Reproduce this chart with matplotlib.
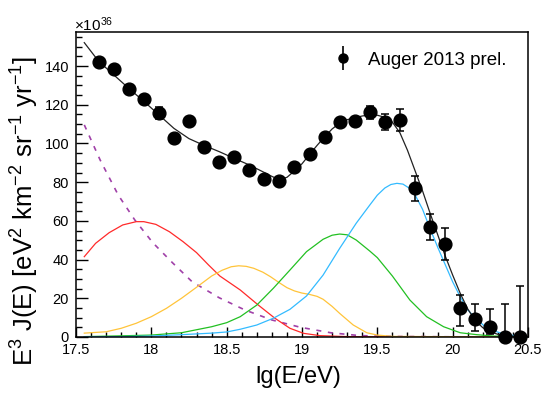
import matplotlib
matplotlib.use('Agg')
import matplotlib.pyplot as plt
from matplotlib.ticker import MultipleLocator, FuncFormatter
from matplotlib.lines import Line2D
from matplotlib.legend_handler import HandlerTuple

plt.rcParams['font.family'] = ['Liberation Sans', 'DejaVu Sans']
plt.rcParams['mathtext.fontset'] = 'custom'
plt.rcParams['mathtext.rm'] = 'Liberation Sans'
plt.rcParams['mathtext.it'] = 'Liberation Sans:italic'

# Auger 2013 prel. data points (units of 1e36)
lgE = [17.65, 17.75, 17.85, 17.95, 18.05, 18.15, 18.25, 18.35, 18.45, 18.55,
       18.65, 18.75, 18.85, 18.95, 19.05, 19.15, 19.25, 19.35, 19.45, 19.55,
       19.65, 19.75, 19.85, 19.95, 20.05, 20.15, 20.25, 20.35, 20.45]
flux = [142.3, 138.5, 128.2, 123.0, 115.6, 103.0, 111.8, 98.3, 90.6, 93.2,
        86.3, 81.7, 80.6, 88.0, 94.6, 103.5, 111.3, 111.6, 116.1, 111.0,
        112.1, 76.8, 57.0, 47.9, 15.1, 9.5, 5.0, 0.0, 0.0]
err_lo = [1.0, 1.2, 1.5, 2.2, 3.2, 1.5, 2.1, 1.6, 1.5, 1.5,
          1.5, 1.5, 1.5, 1.5, 1.6, 1.7, 1.8, 2.3, 3.4, 4.1,
          5.7, 6.3, 6.7, 8.3, 9.6, 6.6, 3.7, 0.0, 0.0]
err_hi = [1.0, 1.2, 1.5, 2.2, 3.2, 1.5, 2.1, 1.6, 1.5, 1.5,
          1.5, 1.5, 1.5, 1.5, 1.6, 1.7, 1.8, 2.3, 3.4, 4.1,
          5.7, 6.3, 6.7, 8.3, 6.6, 7.7, 9.6, 16.9, 26.2]

# total fit
tot_x = [17.555, 17.65, 17.75, 17.85, 17.95, 18.05, 18.15, 18.25, 18.35, 18.45,
         18.55, 18.65, 18.75, 18.80, 18.85, 18.90, 18.95, 19.00, 19.05, 19.10,
         19.15, 19.20, 19.25, 19.30, 19.35, 19.40, 19.45, 19.50, 19.55, 19.60,
         19.65, 19.70, 19.75, 19.80, 19.85, 19.90, 19.95, 20.00, 20.05, 20.10,
         20.15, 20.20, 20.25, 20.30, 20.35, 20.45, 20.5]
tot_y = [152.1, 142.5, 135.5, 128.5, 121.8, 114.8, 107.8, 102.5, 99.0, 95.8,
         92.3, 88.9, 85.0, 83.0, 81.3, 82.5, 85.8, 89.5, 94.3, 99.0,
         103.4, 107.5, 110.5, 112.3, 113.3, 114.2, 114.8, 114.6, 113.5, 111.0,
         105.5, 96.5, 86.0, 75.5, 64.0, 53.0, 42.0, 32.0, 22.6, 14.5,
         8.5, 4.8, 2.6, 1.4, 0.7, 0.2, 0.1]

# components
red_x = [17.555, 17.63, 17.72, 17.81, 17.90, 17.95, 18.03, 18.12, 18.21, 18.30,
         18.38, 18.455, 18.59, 18.71, 18.82, 18.92, 19.01, 19.12, 19.3, 19.6, 20.5]
red_y = [41.5, 48.4, 53.9, 57.9, 59.6, 59.6, 58.2, 54.4, 49.3, 43.6,
         37.2, 31.5, 24.3, 16.5, 9.7, 4.5, 1.9, 0.7, 0.2, 0.05, 0.0]

orange_x = [17.555, 17.70, 17.80, 17.90, 18.00, 18.10, 18.20, 18.30, 18.40, 18.47,
            18.53, 18.58, 18.63, 18.68, 18.74, 18.79, 18.85, 18.90, 18.95, 19.00,
            19.05, 19.10, 19.14, 19.20, 19.25, 19.34, 19.43, 19.50, 19.60, 20.5]
orange_y = [2.0, 2.7, 4.5, 7.1, 10.5, 14.8, 20.0, 25.7, 31.5, 34.5,
            36.3, 36.8, 36.5, 35.5, 33.5, 31.2, 28.0, 25.5, 23.8, 22.7,
            22.0, 21.0, 19.5, 15.8, 12.2, 6.2, 2.2, 1.0, 0.3, 0.0]

green_x = [17.555, 17.8, 18.0, 18.2, 18.4, 18.5, 18.59, 18.70, 18.81, 18.92,
           19.03, 19.14, 19.20, 19.25, 19.30, 19.36, 19.45, 19.50, 19.60, 19.716,
           19.827, 19.94, 20.05, 20.16, 20.27, 20.5]
green_y = [0.2, 0.6, 1.0, 2.2, 5.3, 7.4, 10.5, 16.5, 25.2, 34.6,
           44.1, 50.5, 52.6, 53.2, 52.8, 50.1, 44.4, 41.0, 31.5, 19.1,
           10.5, 5.3, 2.2, 1.2, 0.5, 0.1]

cyan_x = [17.555, 17.8, 18.0, 18.2, 18.4, 18.5, 18.59, 18.70, 18.81, 18.92,
          19.03, 19.14, 19.25, 19.36, 19.45, 19.50, 19.55, 19.59, 19.63, 19.67,
          19.71, 19.75, 19.80, 19.85, 19.90, 19.95, 20.00, 20.05, 20.10, 20.16,
          20.21, 20.27, 20.34, 20.45, 20.5]
cyan_y = [0.1, 0.2, 0.5, 1.2, 2.0, 2.6, 4.0, 6.2, 9.7, 14.3,
          21.2, 32.0, 45.8, 58.8, 68.2, 73.3, 77.0, 78.8, 79.4, 79.0,
          77.0, 73.5, 66.0, 56.0, 46.5, 37.5, 28.5, 20.8, 14.0, 9.1,
          5.7, 3.3, 1.5, 0.3, 0.2]

mag_x = [17.555, 17.66, 17.78, 17.89, 18.01, 18.14, 18.27, 18.45, 18.62, 18.80,
         18.99, 19.19, 19.385, 19.6, 20.0, 20.5]
mag_y = [109.6, 91.5, 73.4, 60.5, 48.7, 38.4, 28.6, 20.3, 14.0, 8.8,
         5.0, 2.2, 0.7, 0.3, 0.1, 0.0]

fig = plt.figure(figsize=(5.56, 3.96), dpi=100, facecolor='w')
ax = fig.add_axes([76 / 556, 1 - 337 / 396, 452 / 556, 305 / 396])

ax.plot(mag_x, mag_y, color='#a040a8', lw=1.2, dashes=(3, 4))
ax.plot(red_x, red_y, color='#ff2a2a', lw=0.9)
ax.plot(orange_x, orange_y, color='#ffc43a', lw=0.9)
ax.plot(green_x, green_y, color='#22c022', lw=0.9)
ax.plot(cyan_x, cyan_y, color='#33bbff', lw=0.9)
ax.plot(tot_x, tot_y, color='#222222', lw=0.9)

ax.errorbar(lgE, flux, yerr=[err_lo, err_hi], fmt='o', color='k', ms=9.2,
            elinewidth=1.1, capsize=3, capthick=1.1, zorder=5, clip_on=False)

ax.set_xlim(17.5, 20.5)
ax.set_ylim(0, 157.6)

ax.xaxis.set_major_locator(MultipleLocator(0.5))
ax.xaxis.set_minor_locator(MultipleLocator(0.1))
ax.yaxis.set_major_locator(MultipleLocator(20))
ax.yaxis.set_minor_locator(MultipleLocator(5))
ax.xaxis.set_major_formatter(FuncFormatter(lambda v, p: '%g' % v))
ax.yaxis.set_major_formatter(FuncFormatter(lambda v, p: '%d' % v))

ax.tick_params(which='both', direction='in', top=False, right=False, labelsize=10.5, width=1)
ax.tick_params(axis='x', which='major', length=7.2, pad=4)
ax.tick_params(axis='x', which='minor', length=3.6)
ax.tick_params(axis='y', which='major', length=8.5, pad=5)
ax.tick_params(axis='y', which='minor', length=4.5)
for s in ax.spines.values():
    s.set_linewidth(1.1)

fig.text(298 / 556, 1 - 377 / 396, 'lg(E/eV)', fontsize=17, ha='center', va='center')
fig.text(25 / 556, 1 - 211 / 396,
         r'E$^{3}$ J(E) [eV$^{2}$ km$^{-2}$ sr$^{-1}$ yr$^{-1}$]',
         fontsize=18.5, rotation=90, ha='center', va='center')
fig.text(74 / 556, 1 - 25 / 396, '×10$^{36}$', fontsize=11, ha='left', va='center')

leg_handle = (Line2D([], [], marker='|', ms=17, mew=1.2, color='k', ls='none'),
              Line2D([], [], marker='o', ms=6.5, color='k', ls='none'))
ax.legend([leg_handle], ['Auger 2013 prel.'], loc='upper left', frameon=False,
          fontsize=13.5, handlelength=1.0, handletextpad=0.8, borderpad=0,
          handler_map={tuple: HandlerTuple(ndivide=1, pad=0)},
          bbox_to_anchor=(0.55, 0.967))

fig.savefig('out.png', dpi=100)
